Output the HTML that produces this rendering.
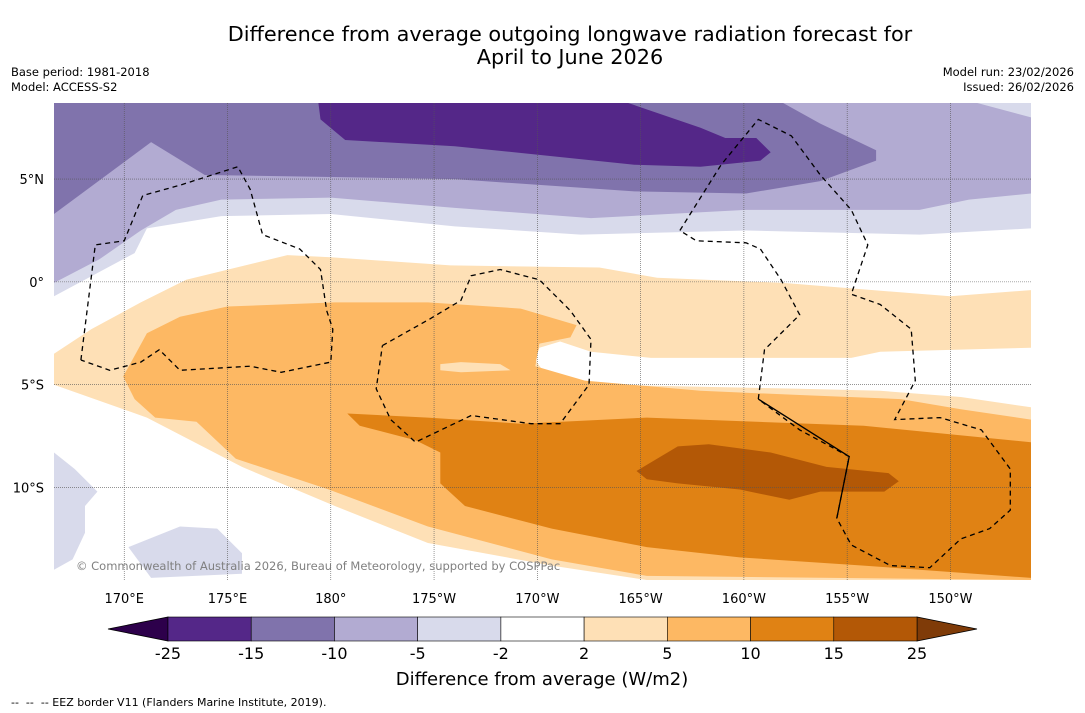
<!DOCTYPE html>
<html><head><meta charset="utf-8"><style>
body{margin:0;background:#fff;width:1085px;height:713px;overflow:hidden;font-family:"DejaVu Sans","Liberation Sans",sans-serif}
svg{position:absolute;left:0;top:0}
</style></head><body>
<svg id="chart" width="1085" height="713" viewBox="0 0 1085 713" xmlns="http://www.w3.org/2000/svg">
<text x="570" y="41" font-size="20.8" text-anchor="middle">Difference from average outgoing longwave radiation forecast for</text>
<text x="570" y="64" font-size="20.8" text-anchor="middle">April to June 2026</text>
<text x="11" y="76" font-size="11.5">Base period: 1981-2018</text>
<text x="11" y="91" font-size="11.5">Model: ACCESS-S2</text>
<text x="1074" y="76" font-size="11.5" text-anchor="end">Model run: 23/02/2026</text>
<text x="1074" y="91" font-size="11.5" text-anchor="end">Issued: 26/02/2026</text>
<defs><clipPath id="mapclip"><rect x="54" y="103" width="977" height="477"/></clipPath></defs>
<g id="map" clip-path="url(#mapclip)"></g>
<g id="axes"></g>
<text x="76" y="570" font-size="11.5" fill="#808080">© Commonwealth of Australia 2026, Bureau of Meteorology, supported by COSPPac</text>
<g id="cbar"></g>
<text x="542" y="685" font-size="18" text-anchor="middle">Difference from average (W/m2)</text>
<text x="11" y="706" font-size="11">-- &#160;-- &#160;-- EEZ border V11 (Flanders Marine Institute, 2019).</text>
</svg>
<script>
const lonTicks=[170,175,180,185,190,195,200,205,210];
const lonLabels=["170°E","175°E","180°","175°W","170°W","165°W","160°W","155°W","150°W"];
const latTicks=[5,0,-5,-10];
const latLabels=["5°N","0°","5°S","10°S"];
const levels=[-25,-15,-10,-5,-2,2,5,10,15,25];
const levelColors=["#542788","#8073ac","#b2abd2","#d8daeb","#ffffff","#fee0b6","#fdb863","#e08214","#b35806"];
const regionLight=[[166.6,-0.7],[170.5,1.4],[171.1,2.6],[174.7,3.2],[180.0,3.3],[186.0,2.7],[192.1,2.3],[200.1,2.5],[208.5,2.3],[213.9,2.6],[213.9,8.7],[166.6,8.7]];
const regionLav=[[166.6,-0.05],[168.8,1.1],[170.8,2.5],[172.5,3.5],[174.7,4.0],[180.0,4.1],[186.0,3.6],[192.6,3.1],[200.1,3.5],[208.5,3.5],[210.9,4.0],[213.9,4.3],[213.9,8.7],[166.6,8.7]];
const regionMid=[[166.6,3.3],[171.3,6.8],[173.9,5.2],[180.0,5.1],[186.0,5.0],[194.7,4.4],[200.1,4.3],[203.7,4.9],[206.4,5.9],[206.4,6.4],[203.7,7.7],[201.9,8.7],[166.6,8.7]];
const regionCorner=[[211.3,8.7],[213.9,8.0],[213.9,8.7]];
const regionDark=[[179.4,8.7],[179.5,7.9],[180.7,6.9],[186.0,6.6],[194.7,5.7],[197.9,5.6],[200.8,5.9],[201.3,6.3],[200.6,7.0],[199.1,7.0],[197.9,7.5],[194.4,8.7]];
const blobA=[[166.6,-8.3],[167.6,-9.1],[168.7,-10.2],[168.1,-10.9],[168.1,-12.2],[167.5,-13.5],[166.6,-14.0]];
const blobB=[[170.2,-12.9],[172.7,-11.9],[174.5,-12.0],[175.7,-13.2],[175.7,-14.2],[171.3,-14.4]];
const regionPale=[[166.6,-3.5],[168.4,-2.3],[170.8,-1.0],[173.0,0.1],[177.9,1.3],[180.0,1.2],[185.8,0.8],[193.0,0.7],[195.8,0.2],[201.9,-0.05],[210.0,-0.7],[213.9,-0.4],[213.9,-14.5],[195.3,-14.5],[190.7,-13.8],[184.7,-12.7],[180.2,-10.9],[175.7,-9.0],[171.1,-6.6],[166.6,-5.0]];
const regionGap=[[213.9,-3.2],[206.6,-3.4],[205.2,-3.7],[200.3,-3.7],[195.5,-3.7],[192.6,-3.4],[191.1,-2.9],[190.1,-3.2],[189.9,-3.8],[190.4,-4.5],[193.1,-5.0],[197.9,-5.1],[202.7,-5.2],[206.6,-5.3],[210.5,-5.6],[213.9,-6.1]];
const regionOrange=[[169.95,-4.6],[171.1,-2.5],[172.7,-1.7],[175.0,-1.2],[180.2,-1.0],[184.7,-1.0],[189.2,-1.3],[191.9,-2.1],[191.6,-2.7],[190.1,-3.0],[189.9,-4.1],[192.3,-4.8],[197.9,-5.3],[202.7,-5.5],[207.6,-5.7],[210.5,-6.2],[213.9,-6.7],[213.9,-14.5],[195.3,-14.3],[190.7,-13.5],[184.7,-11.9],[179.9,-10.1],[175.4,-8.6],[173.5,-6.8],[171.5,-6.6],[170.5,-5.7]];
const islandGap=[[185.3,-4.0],[186.3,-3.9],[188.2,-4.0],[188.7,-4.3],[186.3,-4.4],[185.3,-4.3]];
const regionDeep=[[180.8,-6.4],[184.7,-6.6],[189.2,-6.9],[195.3,-6.6],[205.8,-7.0],[213.9,-7.8],[213.9,-14.4],[205.8,-13.8],[199.8,-13.4],[195.3,-12.9],[190.7,-12.0],[186.5,-10.9],[185.3,-9.8],[185.3,-8.3],[184.1,-7.7],[181.4,-7.0]];
const regionBrown=[[194.8,-9.2],[196.8,-8.0],[198.3,-7.9],[201.3,-8.3],[204.0,-9.0],[207.0,-9.3],[207.5,-9.7],[206.8,-10.2],[203.7,-10.2],[202.2,-10.6],[199.8,-10.1],[196.8,-9.8],[195.3,-9.6]];
const eezGilbert=[[167.9,-3.8],[168.6,1.8],[170.0,2.0],[170.9,4.2],[172.7,4.7],[175.5,5.6],[176.1,4.5],[176.7,2.3],[178.5,1.6],[179.5,0.6],[179.8,-1.4],[180.1,-2.3],[180.0,-3.9],[177.6,-4.4],[176.1,-4.1],[172.7,-4.3],[171.7,-3.3],[170.8,-3.9],[169.3,-4.3],[167.9,-3.8]];
const eezPhoenix=[[182.5,-3.1],[184.8,-1.8],[186.3,-0.9],[186.8,0.3],[188.2,0.6],[190.1,0.1],[191.6,-1.4],[192.6,-2.8],[192.5,-5.0],[191.1,-6.9],[189.7,-6.9],[186.8,-6.5],[184.1,-7.8],[182.9,-6.7],[182.2,-5.2],[182.5,-3.1]];
const eezLine=[[196.9,2.5],[198.9,5.7],[200.7,7.9],[202.3,7.1],[203.7,5.2],[205.2,3.5],[206.0,1.8],[205.2,-0.6],[206.6,-1.1],[208.1,-2.3],[208.3,-4.8],[207.3,-6.7],[209.5,-6.6],[211.5,-7.2],[212.9,-9.1],[212.9,-11.1],[211.9,-12.0],[210.5,-12.5],[209.0,-13.9],[207.1,-13.8],[205.2,-12.8],[204.5,-11.5],[205.1,-8.5],[202.7,-7.2],[200.7,-5.7],[201.0,-3.3],[202.7,-1.6],[201.8,0.1],[200.8,1.6],[200.1,1.9],[197.7,2.0],[196.9,2.5]];
const eezSolid=[[200.7,-5.7],[205.1,-8.5],[204.5,-11.5]];

const NS='http://www.w3.org/2000/svg';
const X0=54,X1=1031,Y0=103,Y1=580,LON0=166.6,LON1=213.9,LAT0=-14.5,LAT1=8.7;
function xs(lon){return X0+(lon-LON0)/(LON1-LON0)*(X1-X0);}
function ys(lat){return Y1-(lat-LAT0)/(LAT1-LAT0)*(Y1-Y0);}
function mk(tag,attrs,parent){const e=document.createElementNS(NS,tag);for(const k in attrs)e.setAttribute(k,attrs[k]);parent.appendChild(e);return e;}
const map=document.getElementById('map'),axes=document.getElementById('axes'),cbar=document.getElementById('cbar');
function pts(a){return a.map(p=>xs(p[0]).toFixed(1)+','+ys(p[1]).toFixed(1)).join(' ');}
let bg=mk('rect',{x:X0,y:Y0,width:X1-X0,height:Y1-Y0,fill:'#fff'},map);


const layers=[[regionLight,3,'contour-minus5-minus2'],[regionLav,2,'contour-minus10-minus5'],[regionMid,1,'contour-minus15-minus10'],[regionCorner,3,'contour-corner-minus5'],[regionDark,0,'contour-minus25-minus15'],[blobA,3,'contour-blob-west'],[blobB,3,'contour-blob-south'],[regionPale,5,'contour-2-5'],[regionGap,4,'contour-gap-neutral'],[regionOrange,6,'contour-5-10'],[islandGap,5,'contour-island-2-5'],[regionDeep,7,'contour-10-15'],[regionBrown,8,'contour-15-25']];
layers.forEach(l=>{const p=mk('polygon',{points:pts(l[0]),fill:levelColors[l[1]],stroke:'none'},map);

});
lonTicks.forEach((t,i)=>{const x=xs(t);const g=mk('line',{x1:x,x2:x,y1:Y0,y2:Y1,stroke:'#555','stroke-width':0.6,'stroke-dasharray':'1,1'},map);


const tx=mk('text',{x:x,y:603,'font-size':13,'text-anchor':'middle'},axes);tx.textContent=lonLabels[i];

});
latTicks.forEach((t,i)=>{const y=ys(t);const g=mk('line',{x1:X0,x2:X1,y1:y,y2:y,stroke:'#555','stroke-width':0.6,'stroke-dasharray':'1,1'},map);


const tx=mk('text',{x:44,y:y+5,'font-size':13,'text-anchor':'end'},axes);tx.textContent=latLabels[i];

});
[eezGilbert,eezPhoenix,eezLine].forEach(a=>{const p=mk('polyline',{points:pts(a),fill:'none',stroke:'#000','stroke-width':1.3,'stroke-dasharray':'5,4'},map);

});
let sl=mk('polyline',{points:pts(eezSolid),fill:'none',stroke:'#000','stroke-width':1.3},map);


const CB0=168,CB1=917,CBY=617,CBH=24,n=levelColors.length,w=(CB1-CB0)/n;
let tl=mk('polygon',{points:`108,${CBY+CBH/2} ${CB0},${CBY} ${CB0},${CBY+CBH}`,fill:'#2d004b',stroke:'#000','stroke-width':0.8},cbar);


let tr=mk('polygon',{points:`977,${CBY+CBH/2} ${CB1},${CBY} ${CB1},${CBY+CBH}`,fill:'#7f3b08',stroke:'#000','stroke-width':0.8},cbar);


levelColors.forEach((c,i)=>{const r=mk('rect',{x:CB0+i*w,y:CBY,width:w,height:CBH,fill:c,stroke:'#000','stroke-width':0.6},cbar);

});
levels.forEach((v,i)=>{const t=mk('text',{x:CB0+i*w,y:659,'font-size':16,'text-anchor':'middle'},cbar);t.textContent=v;

});
</script>
</body></html>
